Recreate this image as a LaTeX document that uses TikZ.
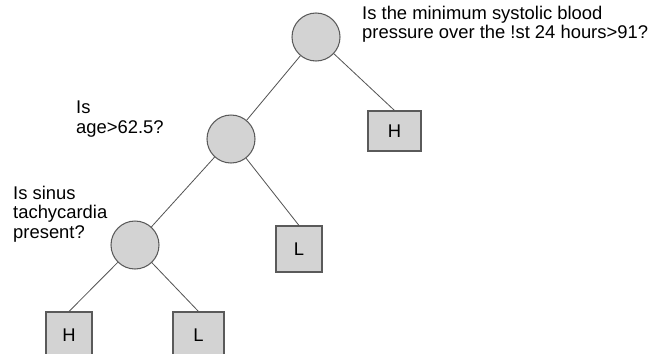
\documentclass[tikz,border=0pt]{standalone}
\usepackage{fontspec}
\setmainfont{Liberation Sans}
\definecolor{nodefill}{RGB}{211,211,211}
\definecolor{nodeline}{RGB}{90,90,90}
\definecolor{edgeline}{RGB}{85,85,85}

\begin{document}
\begin{tikzpicture}[
    x=0.03cm, y=-0.03cm,
    test/.style={circle,draw=nodeline,fill=nodefill,line width=0.9pt,minimum size=1.44cm,inner sep=0pt},
    leaf/.style={rectangle,draw=nodeline,fill=nodefill,line width=0.9pt,inner sep=0pt,font=\fontsize{15.7}{16}\selectfont},
    quest/.style={align=left,inner sep=0pt,font=\fontsize{15.7}{16.6}\selectfont},
    edge/.style={draw=edgeline,line width=0.7pt}
]
\useasboundingbox (0,0) rectangle (652,353);

% tests
\node[test] (bp) at (316,37) {};
\node[test] (age) at (231,139) {};
\node[test] (sinus) at (135,245) {};

% leaves
\node[leaf,minimum width=1.59cm,minimum height=1.2cm] (hi1) at (394.5,131) {H};
\node[leaf,minimum width=1.38cm,minimum height=1.38cm] (lo1) at (299,249) {L};
\node[leaf,minimum width=1.38cm,minimum height=1.38cm] (hi2) at (69,335) {H};
\node[leaf,minimum width=1.53cm,minimum height=1.38cm] (lo2) at (198.5,335) {L};

% questions
\node[quest,anchor=west] (qbp) at (362,24) {Is the minimum systolic blood\\pressure over the !st 24 hours>91?};
\node[quest,anchor=west] (qage) at (76,119) {Is\\age>62.5?};
\node[quest,anchor=west] (qsinus) at (13,214) {Is sinus\\tachycardia\\present?};

% branches
\draw[edge] (bp)--(age);
\draw[edge] (bp)--(hi1.north);
\draw[edge] (age)--(sinus);
\draw[edge] (age)--(lo1.north);
\draw[edge] (sinus)--(hi2.north);
\draw[edge] (sinus)--(lo2.north);

\end{tikzpicture}
\end{document}
